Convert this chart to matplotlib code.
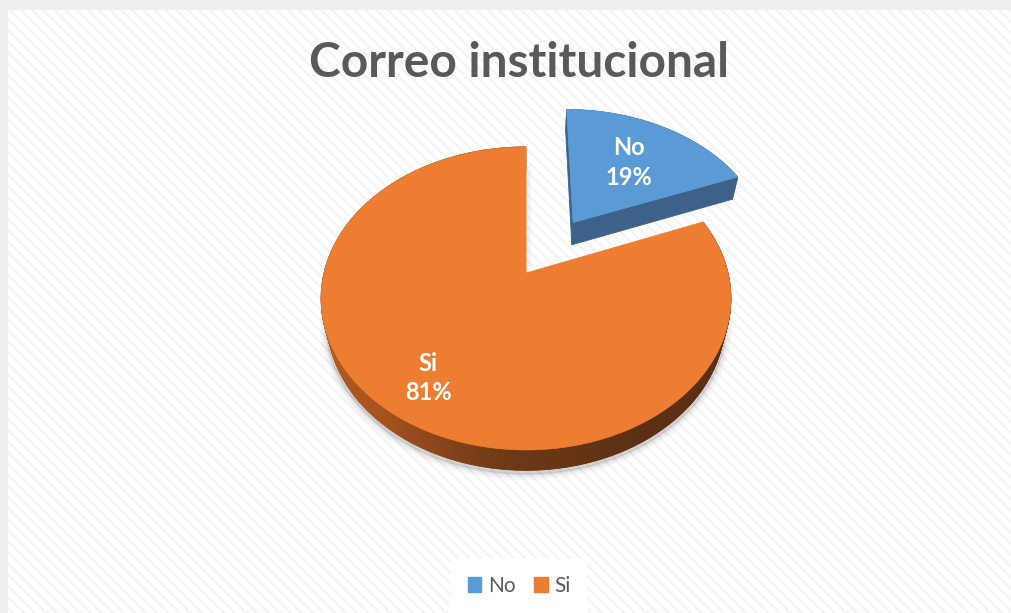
import numpy as np
import matplotlib
matplotlib.use("Agg")
import matplotlib.pyplot as plt
from matplotlib.patches import Rectangle, Patch

# data
labels = ["No", "Si"]
values = [19, 81]
explode = [0.44, 0.0]
top_colors = ["#5B9BD5", "#ED7D31"]
title = "Correo institucional"

W, H = 1012, 613
TXT = "#595959"
plt.rcParams["font.family"] = ["Lato", "DejaVu Sans"]
plt.rcParams["hatch.linewidth"] = 1.4

fig = plt.figure(figsize=(W / 100, H / 100), dpi=100, facecolor="#efefef")
ax = fig.add_axes([0, 0, 1, 1])
ax.set_xlim(0, W)
ax.set_ylim(H, 0)
ax.axis("off")

# chart area with faint diagonal stripes
ax.add_patch(Rectangle((8, 10), W - 8, H - 10, facecolor="#fefefe", edgecolor="#f3f3f3",
                       hatch="\\\\\\", lw=0, zorder=0))

# simple perspective projection of a tilted disc (radius 1, thickness THICK)
TILT = np.radians(46.8)
S, C = np.sin(TILT), np.cos(TILT)
DIST = 4.08
FOC = 202 * DIST
CX, CY = 526, 273
THICK = 0.165


def proj(X, Y, Z=0.0):
    X = np.asarray(X, float)
    Y = np.asarray(Y, float)
    yc = Y * S + Z * C
    zc = DIST + Y * C - Z * S
    return CX + FOC * X / zc, CY - FOC * yc / zc


def side_color(phi):
    # shading of the orange rim by angle (deg)
    p = phi % 360
    stops = [0, 180, 205, 230, 265, 300, 360]
    cols = np.array([[92, 48, 18], [150, 74, 26], [178, 90, 33], [168, 83, 30],
                     [110, 56, 21], [90, 47, 18], [92, 48, 18]]) / 255
    return [np.interp(p, stops, cols[:, k]) for k in range(3)]


total = sum(values)
start = 90.0
slices = []
for v, e in zip(values, explode):
    t2 = start
    t1 = start - 360 * v / total
    mid = np.radians((t1 + t2) / 2)
    slices.append((t1, t2, e * np.cos(mid), e * np.sin(mid), mid))
    start = t1


def cut_face(ox, oy, t, color):
    a = np.radians(t)
    X = [ox, ox + np.cos(a), ox + np.cos(a), ox]
    Y = [oy, oy + np.sin(a), oy + np.sin(a), oy]
    Z = [0, 0, -THICK, -THICK]
    px, py = zip(*[proj(x, y, z) for x, y, z in zip(X, Y, Z)])
    ax.fill(px, py, color=color, lw=0.6, ec=color, zorder=2)


def rim(ox, oy, t1, t2, colorfn):
    phis = np.linspace(t1, t2, int(abs(t2 - t1)) * 2 + 2)
    for a, b in zip(phis[:-1], phis[1:]):
        ra, rb = np.radians(a), np.radians(b)
        X = [ox + np.cos(ra), ox + np.cos(rb), ox + np.cos(rb), ox + np.cos(ra)]
        Y = [oy + np.sin(ra), oy + np.sin(rb), oy + np.sin(rb), oy + np.sin(ra)]
        Z = [0, 0, -THICK, -THICK]
        px, py = zip(*[proj(x, y, z) for x, y, z in zip(X, Y, Z)])
        c = colorfn((a + b) / 2)
        ax.fill(px, py, color=c, lw=0.6, ec=c, zorder=2)


def top(ox, oy, t1, t2, color):
    phis = np.radians(np.linspace(t1, t2, 400))
    X = np.r_[ox, ox + np.cos(phis)]
    Y = np.r_[oy, oy + np.sin(phis)]
    px, py = proj(X, Y, 0.0)
    ax.fill(px, py, color=color, lw=0.5, ec=color, zorder=3)


# soft shadow under the big slice
t1, t2, ox, oy, _ = slices[1]
phis = np.radians(np.linspace(t1, t2, 400))
sx, sy = proj(np.r_[ox, ox + 1.01 * np.cos(phis)], np.r_[oy, oy + 1.01 * np.sin(phis)], -THICK)
for k, a in zip([8, 5, 2], [0.025, 0.035, 0.05]):
    ax.fill(sx, sy + 2, color="k", alpha=a, lw=k, ec="k", zorder=1)

# "No" slice (exploded, at the back)
t1, t2, ox, oy, _ = slices[0]
cut_face(ox, oy, t2, "#3d6189")
rim(ox, oy, t1, t2, lambda p: "#3d6189")
cut_face(ox, oy, t1, "#3d6189")
top(ox, oy, t1, t2, top_colors[0])

# "Si" slice
t1, t2, ox, oy, _ = slices[1]
rim(ox, oy, t1, t2, side_color)
top(ox, oy, t1, t2, top_colors[1])

# data labels
label_r = [0.6, 0.77]
for (t1, t2, ox, oy, mid), lab, v, r in zip(slices, labels, values, label_r):
    lx, ly = proj(ox + r * np.cos(mid), oy + r * np.sin(mid), 0.0)
    ax.text(lx, ly, f"{lab}\n{v}%", ha="center", va="center", color="white",
            fontsize=17, fontweight="bold", linespacing=1.35, zorder=5)

ax.text(519, 77, title, ha="center", va="baseline", fontsize=34.5, fontweight="bold", color=TXT)

handles = [Patch(facecolor=c, edgecolor=c) for c in top_colors]
leg = fig.legend(handles, labels, loc="center", bbox_to_anchor=(519 / W, 1 - 586 / H), ncol=2,
                 frameon=True, fancybox=False, edgecolor="none", facecolor="white", framealpha=1,
                 fontsize=15, handlelength=0.65, handleheight=0.75, handletextpad=0.3,
                 columnspacing=0.9, borderpad=0.8, labelcolor=TXT)

fig.savefig("out.png", dpi=100, facecolor=fig.get_facecolor())
